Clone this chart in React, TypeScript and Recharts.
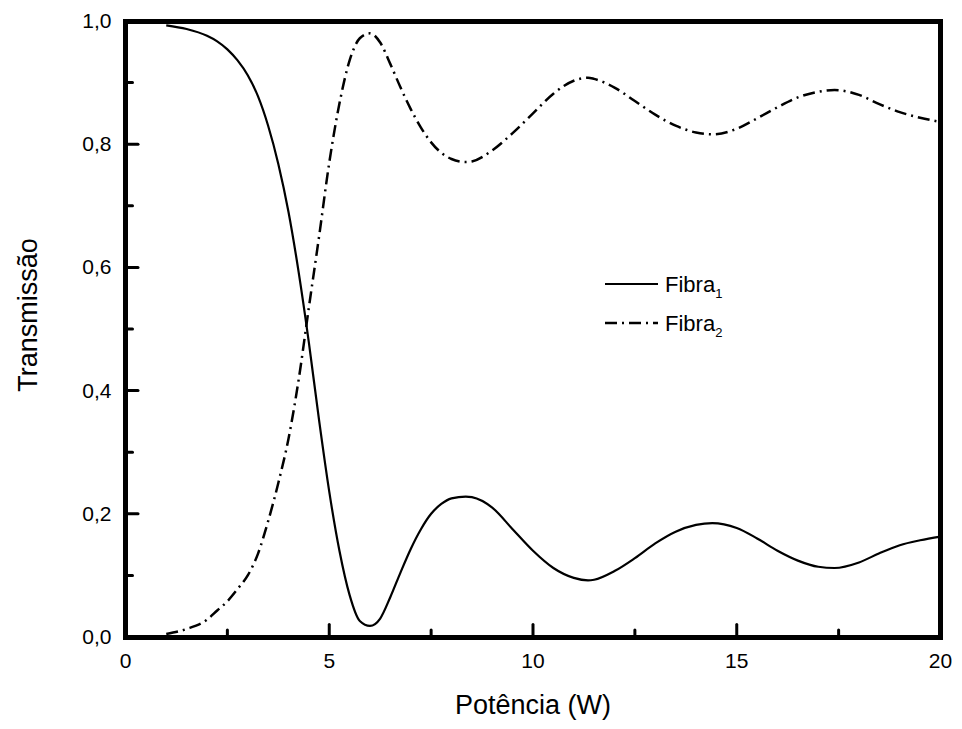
import React from 'react';
import { LineChart, Line, XAxis, YAxis } from 'recharts';

// potência (W)
const power = [
  1.0, 1.5, 2.0, 2.25, 2.5, 2.75, 3.0, 3.25, 3.5, 3.75, 4.0, 4.25, 4.5, 4.75, 5.0, 5.25, 5.5, 5.75,
  6.0, 6.25, 6.5, 6.75, 7.0, 7.25, 7.5, 7.75, 8.0, 8.35, 8.5, 9.0, 9.5, 10.0, 10.5, 11.0, 11.35,
  11.5, 12.0, 12.5, 13.0, 13.5, 14.0, 14.4, 15.0, 15.5, 16.0, 16.5, 17.0, 17.4, 18.0, 18.5,
  19.0, 19.5, 20.0,
];

const fibra1 = [
  0.993, 0.987, 0.976, 0.967, 0.954, 0.936, 0.912, 0.878, 0.83, 0.768, 0.69, 0.592, 0.478, 0.352, 0.236, 0.14, 0.068, 0.026,
  0.018, 0.03, 0.065, 0.105, 0.143, 0.175, 0.2, 0.216, 0.225, 0.228, 0.227, 0.21, 0.175, 0.14, 0.112, 0.096, 0.092,
  0.093, 0.107, 0.128, 0.152, 0.171, 0.182, 0.185, 0.177, 0.16, 0.14, 0.124, 0.114, 0.112, 0.121, 0.136,
  0.149, 0.157, 0.163,
];

const fibra2 = [
  0.005, 0.013, 0.028, 0.043, 0.058, 0.078, 0.1, 0.135, 0.188, 0.25, 0.322, 0.418, 0.535, 0.65, 0.77, 0.866, 0.936, 0.972,
  0.98, 0.965, 0.93, 0.892, 0.857, 0.827, 0.803, 0.786, 0.776, 0.771, 0.772, 0.79, 0.818, 0.85, 0.882, 0.903, 0.908,
  0.906, 0.892, 0.87, 0.848, 0.83, 0.819, 0.816, 0.825, 0.842, 0.86, 0.876, 0.885, 0.888, 0.88, 0.865,
  0.852, 0.843, 0.836,
];

const xTicks = [0, 2.5, 5, 7.5, 10, 12.5, 15, 17.5, 20];
const yTicks = [0, 0.1, 0.2, 0.3, 0.4, 0.5, 0.6, 0.7, 0.8, 0.9, 1.0];

const data = power.map((p, i) => ({ p, f1: fibra1[i], f2: fibra2[i] }));

const FONT = '"Liberation Sans", Arial, sans-serif';

// área de plotagem
const W = 962;
const H = 729;
const M = { top: 21, right: 21.5, bottom: 12, left: 45.5 };
const X_AXIS_H = 80;
const Y_AXIS_W = 80;
const FRAME = 5;

const XTick = (props: any) => {
  const { x, y, payload } = props;
  const v = payload.value;
  const major = v % 5 === 0;
  return (
    <g>
      <line x1={x} x2={x} y1={y} y2={y - (major ? 12.5 : 7)} stroke="#000" strokeWidth={3} strokeLinecap="round" />
      {major && (
        <text x={x} y={y + 31} textAnchor="middle" fontSize={21} fontFamily={FONT} fill="#000" stroke="none">
          {v}
        </text>
      )}
    </g>
  );
};

const YTick = (props: any) => {
  const { x, y, payload } = props;
  const v = payload.value;
  const major = Math.round(v * 10) % 2 === 0;
  return (
    <g>
      <line x1={x} x2={x + (major ? 12.5 : 7)} y1={y} y2={y} stroke="#000" strokeWidth={3} strokeLinecap="round" />
      {major && (
        <text x={x - 14} y={y + 7} textAnchor="end" fontSize={21} fontFamily={FONT} fill="#000" stroke="none">
          {v.toFixed(1).replace('.', ',')}
        </text>
      )}
    </g>
  );
};

const LegendBox = () => (
  <svg width={140} height={80} style={{ fontFamily: FONT, display: 'block' }}>
    <line x1={2} x2={55} y1={20} y2={20} stroke="#000" strokeWidth={2.2} />
    <text x={62} y={28} fontSize={22} fill="#000">
      Fibra<tspan fontSize={13} dy={6}>1</tspan>
    </text>
    <line x1={2} x2={55} y1={59} y2={59} stroke="#000" strokeWidth={2.5} strokeDasharray="12 5 2 5" />
    <text x={62} y={67} fontSize={22} fill="#000">
      Fibra<tspan fontSize={13} dy={6}>2</tspan>
    </text>
  </svg>
);

export default function App() {
  const plotLeft = M.left + Y_AXIS_W;
  const plotTop = M.top;
  const plotW = W - plotLeft - M.right;
  const plotH = H - M.top - M.bottom - X_AXIS_H;
  return (
    <div style={{ position: 'absolute', left: 0, top: 0, width: W, height: H, background: '#fff' }}>
      <LineChart width={W} height={H} data={data} margin={M}>
        <XAxis
          dataKey="p"
          type="number"
          domain={[0, 20]}
          ticks={xTicks}
          allowDataOverflow
          axisLine={false}
          tickLine={false}
          tickSize={0}
          tickMargin={0}
          height={X_AXIS_H}
          tick={<XTick />}
          label={({ viewBox }: any) => (
            <text
              x={viewBox.x + viewBox.width / 2}
              y={viewBox.y + 77}
              textAnchor="middle"
              fontSize={27}
              fontFamily={FONT}
              fill="#000"
              stroke="none"
            >
              Potência (W)
            </text>
          )}
        />
        <YAxis
          type="number"
          domain={[0, 1]}
          ticks={yTicks}
          allowDataOverflow
          axisLine={false}
          tickLine={false}
          tickSize={0}
          tickMargin={0}
          width={Y_AXIS_W}
          tick={<YTick />}
          label={({ viewBox }: any) => {
            const cx = viewBox.x + viewBox.width - 89;
            const cy = viewBox.y + viewBox.height / 2 - 14;
            return (
              <text
                x={cx}
                y={cy}
                transform={`rotate(-90, ${cx}, ${cy})`}
                textAnchor="middle"
                fontSize={27}
                fontFamily={FONT}
                fill="#000"
                stroke="none"
              >
                Transmissão
              </text>
            );
          }}
        />
        <Line
          dataKey="f1"
          type="monotone"
          stroke="#000"
          strokeWidth={2.2}
          dot={false}
          isAnimationActive={false}
        />
        <Line
          dataKey="f2"
          type="monotone"
          stroke="#000"
          strokeWidth={2.5}
          strokeDasharray="12 5 2 5"
          dot={false}
          isAnimationActive={false}
        />
      </LineChart>
      {/* moldura */}
      <div
        style={{
          position: 'absolute',
          left: plotLeft - FRAME / 2,
          top: plotTop - FRAME / 2,
          width: plotW + FRAME,
          height: plotH + FRAME,
          border: `${FRAME}px solid #000`,
          boxSizing: 'border-box',
          pointerEvents: 'none',
        }}
      />
      <div style={{ position: 'absolute', left: 603, top: 264 }}>
        <LegendBox />
      </div>
    </div>
  );
}
